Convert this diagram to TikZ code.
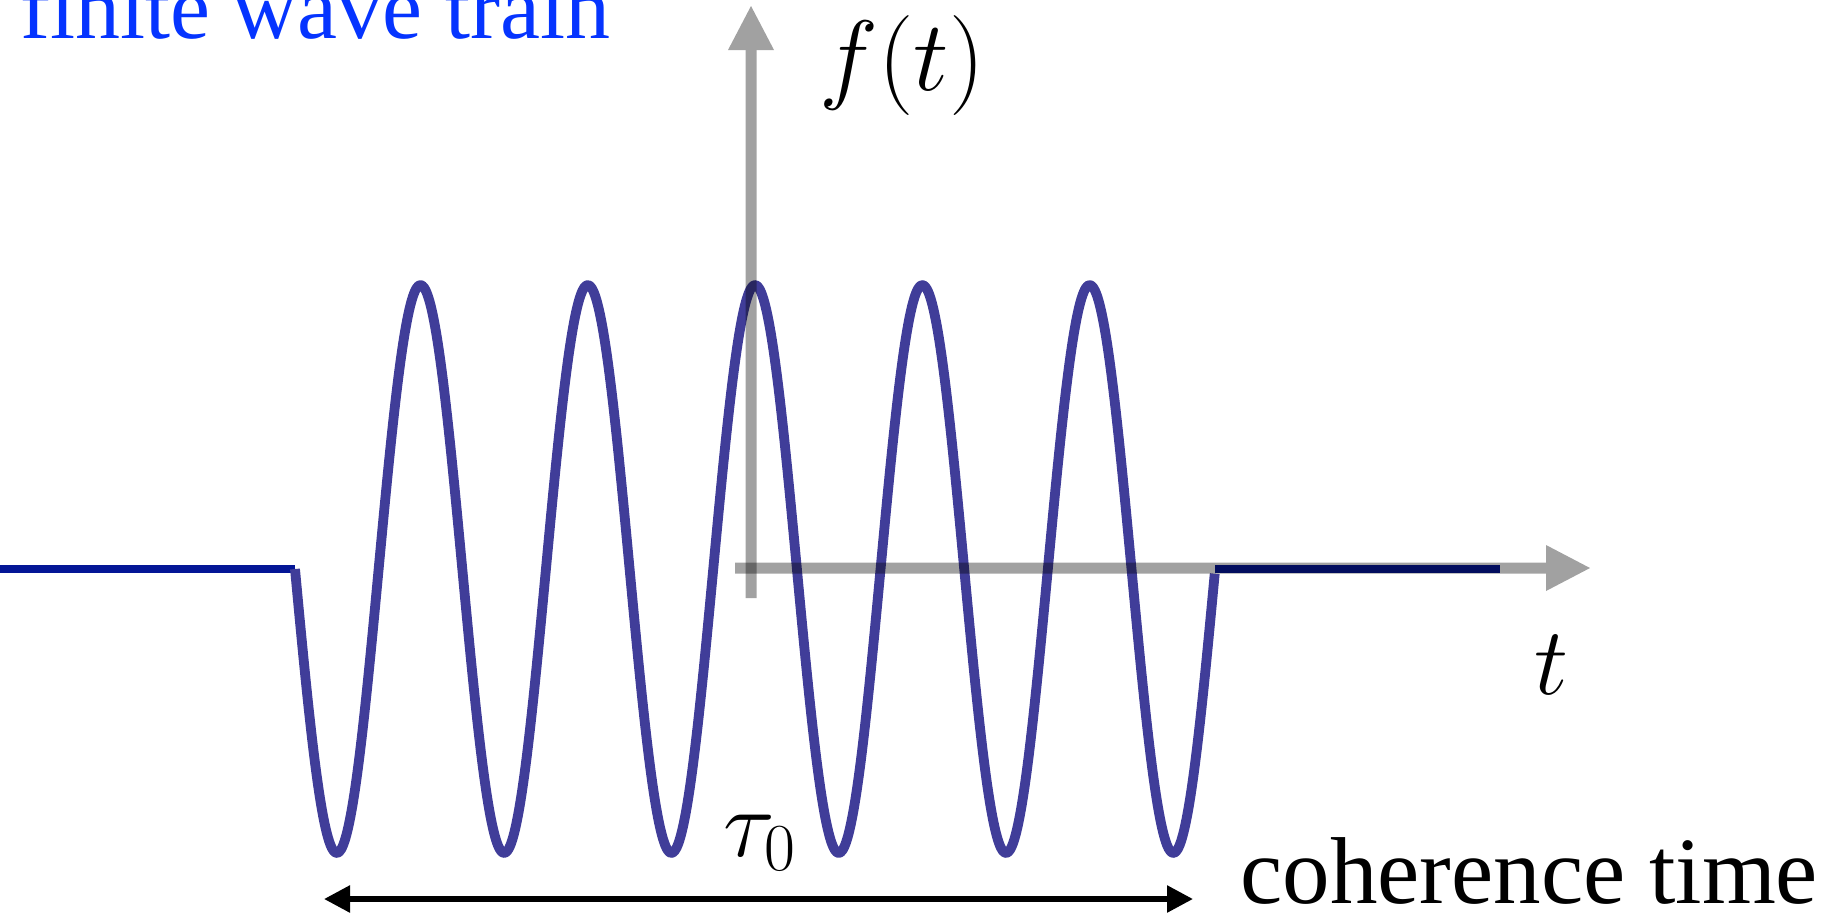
\RequirePackage{fix-cm}
\documentclass[tikz,border=0pt]{standalone}
\usepackage{fontspec}
\newfontfamily\timesfont{Liberation Serif}
\usetikzlibrary{arrows.meta}
\definecolor{titleblue}{RGB}{5,52,255}
\definecolor{wavecol}{RGB}{64,61,153}
\definecolor{flatcol}{RGB}{4,22,150}
\tikzset{
  wave/.style={draw=wavecol, line width=4.9pt, line join=round},
  flat/.style={draw=flatcol, line width=3.9pt},
  axis/.style={draw=black, fill=black, line width=5.5pt,
    -{Triangle[length=22pt,width=23pt,line width=0pt]}},
  axisgroup/.style={transparency group, opacity=0.37},
  span/.style={draw=black, line width=2.8pt,
    {Triangle[length=13pt,width=13pt]}-{Triangle[length=13pt,width=13pt]}},
  lbl/.style={inner sep=0pt, anchor=base}
}
\begin{document}
\begin{tikzpicture}[x=0.5pt,y=-0.5pt]
\useasboundingbox (0,0) rectangle (1831,922);
\clip (0,0) rectangle (1831,922);
% flat parts and wave
\coordinate (l0) at (0,569);
\coordinate (w0) at (295,569);
\coordinate (w1) at (1215,569);
\coordinate (r1) at (1500,569);
\draw[flat] (l0) -- (w0);
\draw[flat] (w1) -- (r1);
\draw[wave] plot[domain=0:5.5, samples=500, smooth] ({295+167.3*\x},{569+284*sin(360*\x)});
% axes
\coordinate (hx0) at (735,568);
\coordinate (hx1) at (1590,568);
\coordinate (vy0) at (751,598);
\coordinate (vy1) at (751,6);
\begin{scope}[axisgroup]
\draw[axis] (hx0) -- (hx1);
\end{scope}
\begin{scope}[axisgroup]
\draw[axis] (vy0) -- (vy1);
\end{scope}
% coherence span arrow
\coordinate (a0) at (324,899);
\coordinate (a1) at (1193,899);
\draw[span] (a0) -- (a1);
% labels
\node[lbl, anchor=base west, text=titleblue, font=\timesfont\fontsize{45}{54}\selectfont] (title) at (20,38) {finite wave train};
\node[lbl, font=\fontsize{50}{60}\selectfont] (ft) at (902,90) {$f(t)$};
\node[lbl, font=\fontsize{48}{58}\selectfont] (tl) at (1551,694) {$t$};
\node[lbl, font=\fontsize{48}{58}\selectfont] (tau) at (760,856) {$\tau_0$};
\node[lbl, anchor=base west, font=\timesfont\fontsize{47.5}{57}\selectfont] (coh) at (1240,903) {coherence time};
\end{tikzpicture}
\end{document}
